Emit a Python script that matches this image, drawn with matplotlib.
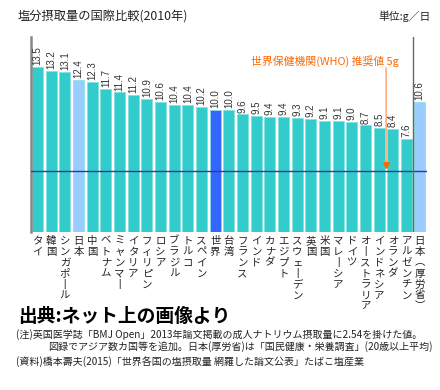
import matplotlib
matplotlib.use("Agg")
import matplotlib.pyplot as plt

plt.rcParams['font.family'] = ['Noto Sans CJK JP', 'DejaVu Sans']

countries = ["タイ", "韓国", "シンガポール", "日本", "中国", "ベトナム", "ミャンマー",
             "イタリア", "フィリピン", "ロシア", "ブラジル", "トルコ", "スペイン", "世界",
             "台湾", "フランス", "インド", "カナダ", "エジプト", "スウェーデン", "英国",
             "米国", "マレーシア", "ドイツ", "オーストラリア", "インドネシア", "オランダ",
             "アルゼンチン", "日本(厚労省)"]
values = [13.5, 13.2, 13.1, 12.4, 12.3, 11.7, 11.4, 11.2, 10.9, 10.6, 10.4, 10.4, 10.2, 10.0,
          10.0, 9.6, 9.5, 9.4, 9.4, 9.3, 9.2, 9.1, 9.1, 9.0, 8.7, 8.5, 8.4, 7.6, 10.6]
value_labels = ["13.5", "13.2", "13.1", "12.4", "12.3", "11.7", "11.4", "11.2", "10.9", "10.6",
                "10.4", "10.4", "10.2", "10.0", "10.0", "9.6", "9.5", "9.4", "9.4", "9.3",
                "9.2", "9.1", "9.1", "9.0", "8.7", "8.5", "8.4", "7.6", "10.6"]
who_value = 5

TEAL = "#33CCCC"
LIGHT = "#99CCFF"
WORLD = "#3366FF"

colors = []
for c in countries:
    if c == "日本" or c == "日本(厚労省)":
        colors.append(LIGHT)
    elif c == "世界":
        colors.append(WORLD)
    else:
        colors.append(TEAL)

positions = list(range(len(countries) - 1)) + [len(countries) - 1.05]

def vertical(s):
    rep = {"ー": "丨", "(": "︵", ")": "︶"}
    return "\n".join(rep.get(ch, ch) for ch in s)

fig = plt.figure(figsize=(4.4, 3.9), dpi=100)
ax = fig.add_axes([31/440, 1 - 231.5/390, 396/440, (231.5 - 37)/390])

ax.bar(positions, values, width=0.8, color=colors, edgecolor="#80E0E0", linewidth=0.5, zorder=2)
for x, v, lab in zip(positions, values, value_labels):
    ax.text(x, v + 0.15, lab, rotation=90, ha="center", va="bottom", fontsize=7,
            color="#333333", family=["Liberation Sans", "DejaVu Sans"])

ax.set_xlim(-0.475, 28.49)
ax.set_ylim(0, 15.95)

ax.axhline(who_value, color="#3333AA", linewidth=1.0, zorder=3)
ax.axvline(27.47, color="#666666", linewidth=1.0, zorder=3)

ax.annotate("", xy=(25.5, who_value + 0.15), xytext=(25.5, 13.4),
            arrowprops=dict(arrowstyle="-|>", color="#FFB080", lw=1.2,
                            mutation_scale=9, shrinkA=0, shrinkB=0), zorder=4)
ax.plot([25.5], [who_value + 0.45], marker="v", color="#FF6600", markersize=5, zorder=5)
ax.text(21.0, 14.0, "世界保健機関(WHO) 推奨値 5g", ha="center", va="center",
        fontsize=7.8, color="#FF6600")

ax.set_xticks(positions)
ax.set_xticklabels([vertical(c) for c in countries], fontsize=7.5, linespacing=1.12,
                   va="top", color="#222222")
ax.tick_params(axis="x", length=0, pad=3)
ax.set_yticks([])

for s in ["top", "bottom", "right"]:
    ax.spines[s].set_visible(False)
ax.spines["left"].set_color("#888888")
ax.spines["left"].set_linewidth(1.8)

fig.text(18/440, 1 - 16/390, "塩分摂取量の国際比較(2010年)", fontsize=8.8, va="center",
         ha="left", color="#222222")
fig.text(431/440, 1 - 16/390, "単位:g／日", fontsize=7.8, va="center", ha="right",
         color="#222222")

fig.text(18/440, 1 - 316/390, "出典:ネット上の画像より", fontsize=13.5, fontweight="bold",
         va="center", ha="left", color="black")
fig.text(16/440, 1 - 335/390,
         "(注)英国医学誌「BMJ Open」2013年論文掲載の成人ナトリウム摂取量に2.54を掛けた値。",
         fontsize=7.2, va="center", ha="left", color="#222222")
fig.text(48/440, 1 - 347/390,
         "図録でアジア数カ国等を追加。日本(厚労省)は「国民健康・栄養調査」(20歳以上平均)",
         fontsize=7.2, va="center", ha="left", color="#222222")
fig.text(16/440, 1 - 362/390,
         "(資料)橋本壽夫(2015)「世界各国の塩摂取量 網羅した論文公表」たばこ塩産業",
         fontsize=7.2, va="center", ha="left", color="#222222")

fig.savefig("out.png", dpi=100)
